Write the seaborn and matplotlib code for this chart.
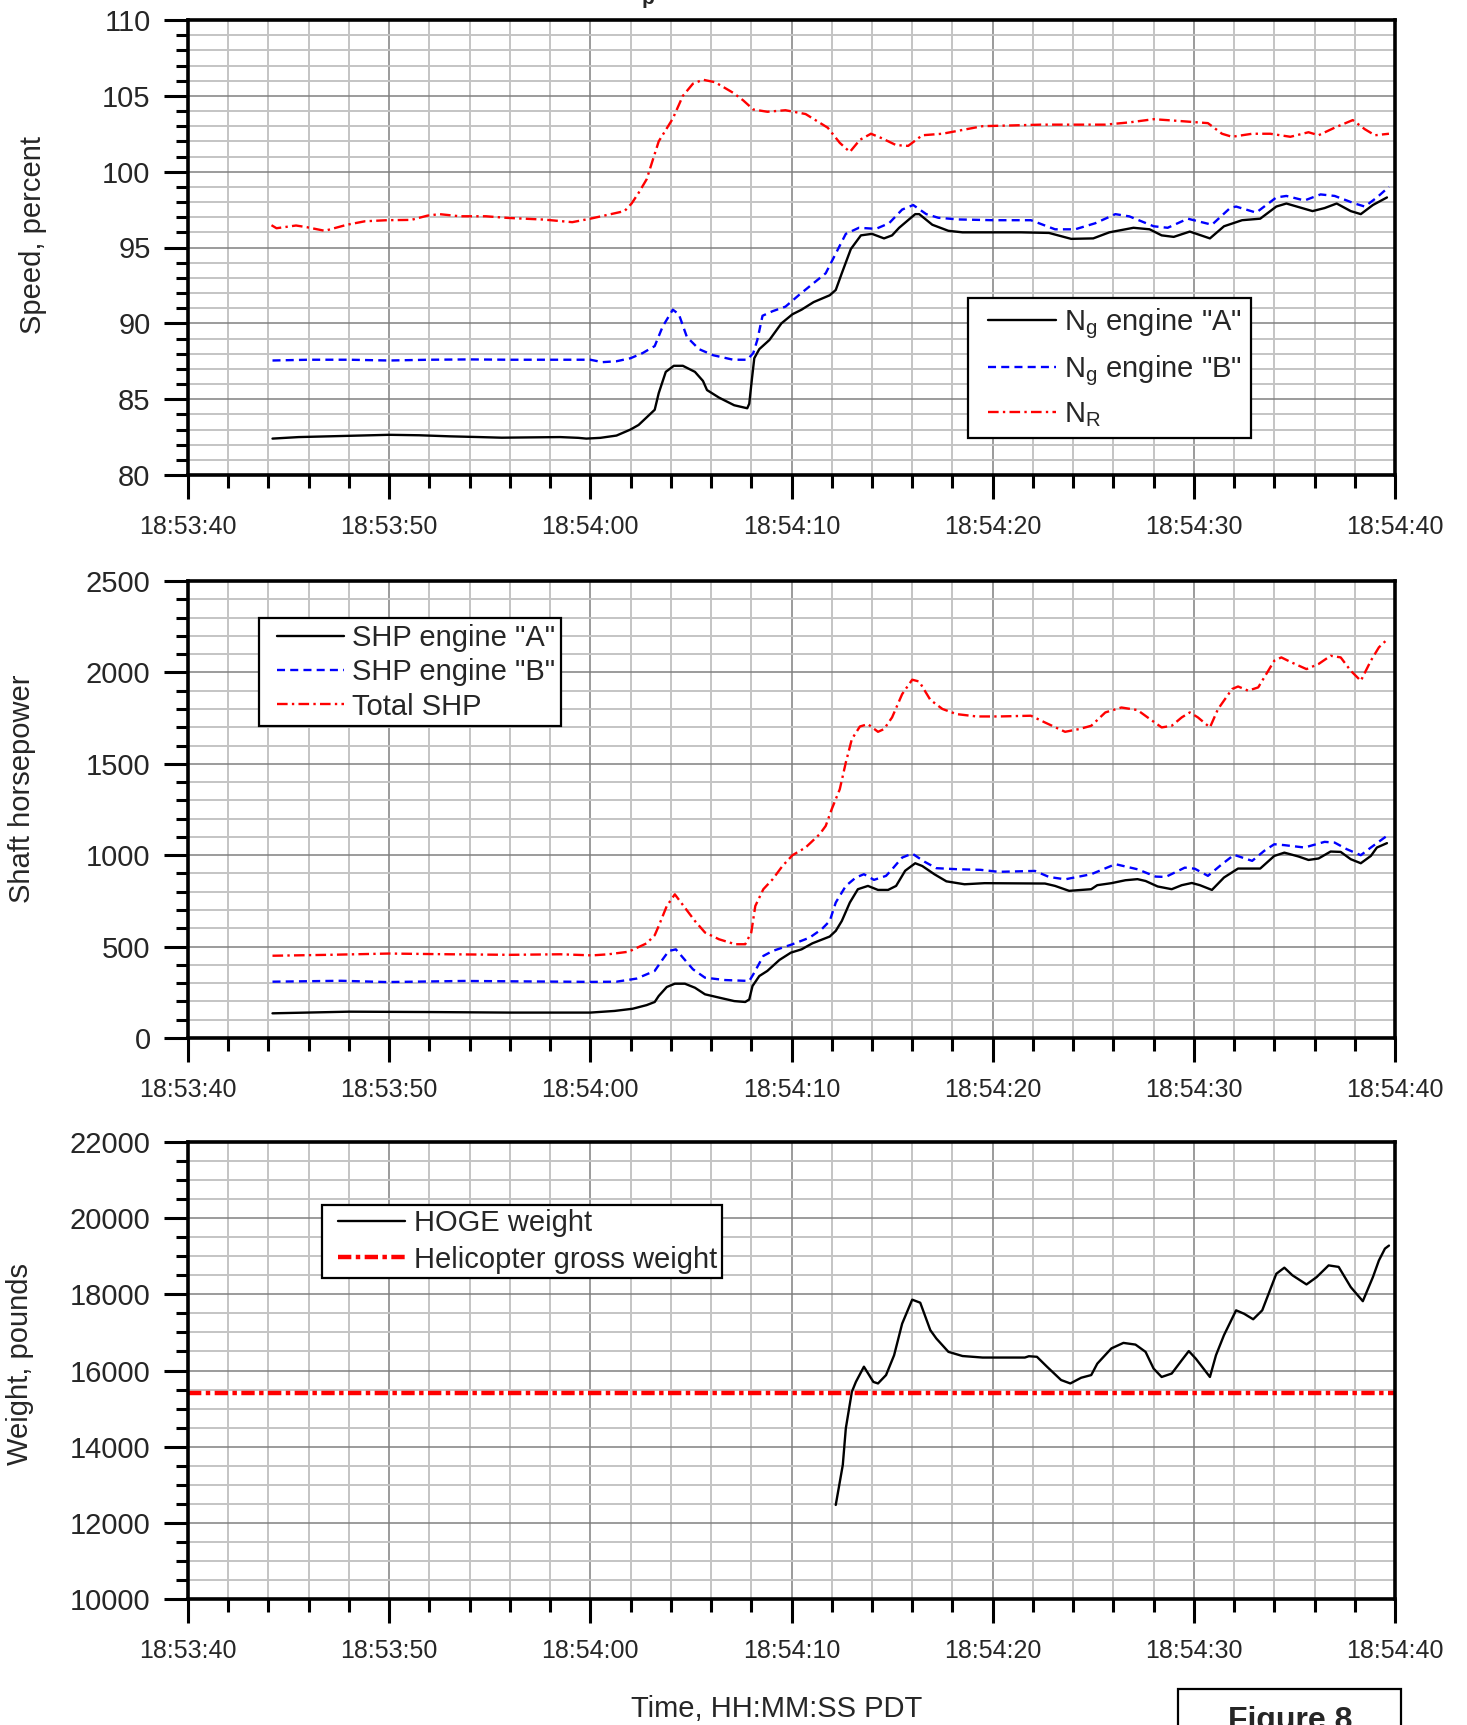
import matplotlib
matplotlib.use('Agg')
import matplotlib.pyplot as plt
import seaborn as sns
import numpy as np
from matplotlib.ticker import MultipleLocator, FixedLocator, FixedFormatter
from matplotlib.patches import Rectangle
from matplotlib.lines import Line2D
from matplotlib.legend_handler import HandlerLine2D

# time axis: seconds after 18:53:40
tick_secs = [0, 10, 20, 30, 40, 50, 60]
tick_labels = ['18:53:40', '18:53:50', '18:54:00', '18:54:10',
               '18:54:20', '18:54:30', '18:54:40']

# ---- panel 1: speed, percent ----
ng_a_t = [4.2, 5.5, 7, 8.5, 10, 11.5, 13, 14.5, 15.6, 17, 18.5, 19.4, 19.8, 20.5, 21.3,
          22.0, 22.4, 23.2, 23.4, 23.75, 24.15, 24.6, 25.2, 25.6, 25.8, 26.4, 27.15, 27.8,
          27.9, 28.03, 28.15, 28.4, 28.9, 29.5, 30.05, 30.5, 31.1, 31.9, 32.2, 32.5, 32.95,
          33.45, 34.0, 34.6, 35.0, 35.35, 36.15, 36.35, 37.0, 37.8, 38.5, 40, 41.4, 42.8,
          43.9, 45.0, 45.8, 47.0, 47.8, 48.4, 49.0, 49.8, 50.8, 51.5, 52.4, 53.3, 54.1,
          54.6, 55.9, 56.5, 57.1, 57.8, 58.3, 58.9, 59.6]
ng_a = [82.4, 82.5, 82.55, 82.6, 82.65, 82.62, 82.55, 82.5, 82.46, 82.48, 82.5, 82.45,
        82.4, 82.45, 82.6, 83.0, 83.3, 84.3, 85.4, 86.8, 87.2, 87.2, 86.8, 86.2, 85.6, 85.1,
        84.6, 84.4, 84.7, 86.3, 87.7, 88.3, 88.9, 90.0, 90.6, 90.9, 91.4, 91.85, 92.2, 93.3,
        94.9, 95.8, 95.9, 95.6, 95.8, 96.3, 97.2, 97.2, 96.5, 96.1, 96.0, 96.0, 96.0, 95.96,
        95.57, 95.6, 96.0, 96.3, 96.2, 95.8, 95.7, 96.05, 95.6, 96.4, 96.8, 96.9, 97.7, 97.9,
        97.4, 97.6, 97.9, 97.4, 97.2, 97.8, 98.3]

ng_b_t = [4.2, 6, 8, 10, 12, 14, 16, 18, 20, 20.6, 21.3, 22.0, 22.6, 23.2, 23.6, 24.1,
          24.4, 24.8, 25.4, 26.1, 27.1, 27.8, 28.1, 28.3, 28.56, 29.06, 29.7, 30.4, 31.05,
          31.7, 32.2, 32.7, 33.35, 34.2, 34.85, 35.5, 36.05, 36.7, 37.3, 38.3, 40, 41.9,
          43.1, 44.1, 45.1, 46.1, 46.8, 48.0, 48.7, 49.7, 50.9, 51.8, 52.1, 53.1, 54.1,
          54.6, 55.5, 56.3, 57.0, 58.0, 58.5, 59.1, 59.7]
ng_b = [87.55, 87.6, 87.6, 87.55, 87.6, 87.62, 87.6, 87.6, 87.6, 87.44, 87.5, 87.7, 88.04,
        88.5, 89.8, 90.9, 90.6, 89.1, 88.3, 87.9, 87.6, 87.6, 88.04, 88.9, 90.5, 90.8, 91.1,
        91.9, 92.6, 93.3, 94.6, 95.9, 96.3, 96.23, 96.6, 97.5, 97.8, 97.2, 96.96, 96.85, 96.8,
        96.8, 96.2, 96.2, 96.6, 97.2, 97.05, 96.4, 96.3, 96.9, 96.5, 97.6, 97.7, 97.3, 98.3,
        98.4, 98.1, 98.5, 98.4, 97.9, 97.7, 98.3, 99.0]

nr_t = [4.15, 4.4, 5.37, 5.9, 6.8, 7.9, 8.8, 9.9, 11.1, 11.9, 12.5, 13.5, 14.8, 15.9, 17.7,
        19.1, 20.0, 21.7, 22.05, 22.4, 22.8, 23.4, 24.1, 24.6, 25.1, 25.6, 26.2, 27.1, 27.6,
        28.1, 28.8, 29.7, 30.7, 31.8, 32.4, 32.9, 33.4, 33.95, 34.5, 35.2, 35.8, 36.5, 37.5,
        38.3, 39.5, 41, 42.4, 44.1, 45.6, 46.8, 48.0, 49.2, 50.7, 51.4, 51.9, 52.9, 53.8,
        54.8, 55.7, 56.2, 57.0, 57.9, 58.5, 59.0, 59.7]
nr = [96.47, 96.27, 96.45, 96.34, 96.1, 96.5, 96.73, 96.8, 96.82, 97.1, 97.2, 97.06, 97.06,
      96.95, 96.84, 96.67, 96.9, 97.4, 97.9, 98.6, 99.5, 102.0, 103.5, 105.0, 105.8, 106.06,
      105.9, 105.2, 104.7, 104.1, 103.95, 104.05, 103.8, 102.9, 101.9, 101.3, 102.1, 102.5,
      102.2, 101.75, 101.7, 102.4, 102.5, 102.7, 103.0, 103.05, 103.1, 103.1, 103.1, 103.25,
      103.46, 103.35, 103.2, 102.5, 102.3, 102.5, 102.5, 102.3, 102.6, 102.4, 102.9, 103.4,
      102.8, 102.4, 102.5]

# ---- panel 2: shaft horsepower ----
shp_a_t = [4.2, 8, 12, 16, 20.0, 21.2, 22.1, 22.8, 23.2, 23.4, 23.8, 24.2, 24.7, 25.2, 25.7,
           26.4, 27.15, 27.7, 27.9, 28.06, 28.4, 28.8, 29.4, 29.97, 30.5, 31.04, 31.9, 32.2,
           32.5, 32.9, 33.3, 33.8, 34.3, 34.8, 35.2, 35.65, 36.15, 36.5, 37.1, 37.7, 38.6,
           39.6, 42.6, 43.1, 43.8, 44.9, 45.2, 45.9, 46.6, 47.2, 47.6, 48.2, 48.9, 49.4, 49.9,
           50.3, 50.9, 51.5, 52.2, 53.3, 54.0, 54.5, 55.2, 55.7, 56.2, 56.8, 57.3, 57.8, 58.3,
           58.8, 59.1, 59.6]
shp_a = [135, 144, 142, 139, 139, 148, 160, 180, 197, 230, 279, 297, 297, 275, 239, 221, 202,
         197, 211, 284, 339, 367, 427, 467, 485, 518, 555, 586, 640, 741, 814, 832, 810, 810,
         832, 915, 956, 941, 896, 857, 841, 847, 845, 832, 805, 814, 836, 847, 863, 869, 859,
         829, 814, 836, 848, 836, 810, 878, 927, 927, 996, 1014, 993, 974, 982, 1020, 1018,
         978, 956, 996, 1042, 1066]

shp_b_t = [4.2, 7.6, 9.9, 13.7, 20.1, 21.3, 22.3, 23.2, 23.6, 23.9, 24.25, 24.6, 25.1, 25.7,
           26.7, 27.9, 28.1, 28.6, 29.06, 30.05, 30.9, 31.5, 31.9, 32.2, 32.7, 33.2, 33.6,
           34.1, 34.7, 35.0, 35.5, 36.0, 36.6, 37.2, 38.3, 39.4, 40.3, 42.1, 42.8, 43.6, 44.9,
           46.1, 47.2, 48.1, 48.6, 49.55, 50.05, 50.7, 51.4, 52.0, 52.9, 53.5, 54.0, 54.5,
           55.5, 56.5, 57.0, 57.6, 58.3, 58.8, 59.6]
shp_b = [308, 313, 306, 312, 307, 308, 325, 367, 431, 476, 485, 440, 376, 330, 317, 312, 348,
         449, 476, 513, 549, 595, 640, 741, 832, 878, 896, 865, 887, 923, 987, 1009, 965, 929,
         923, 920, 909, 914, 881, 868, 896, 951, 923, 883, 881, 932, 926, 887, 951, 1002, 969,
         1024, 1060, 1055, 1042, 1073, 1069, 1033, 1000, 1042, 1106]

shp_tot_t = [4.2, 7, 10, 13, 16, 18.5, 20.1, 20.9, 21.9, 22.8, 23.2, 23.4, 23.8, 24.2, 24.7,
             25.2, 25.7, 26.4, 27.2, 27.7, 28.0, 28.2, 28.6, 29.06, 29.55, 30.05, 30.7, 31.4,
             31.7, 32.0, 32.4, 32.7, 33.0, 33.4, 33.8, 34.3, 34.6, 35.0, 35.5, 36.0, 36.35,
             36.9, 37.5, 38.2, 39.2, 40.3, 41.9, 42.6, 43.6, 44.3, 44.9, 45.6, 46.4, 47.2,
             47.7, 48.4, 48.9, 49.4, 49.8, 50.2, 50.8, 51.2, 51.9, 52.2, 52.7, 53.2, 53.7,
             54.0, 54.35, 54.85, 55.6, 56.2, 56.8, 57.3, 57.8, 58.3, 58.8, 59.2, 59.6]
shp_tot = [450, 455, 462, 458, 455, 458, 452, 458, 472, 518, 562, 613, 722, 786, 713, 640, 577,
           540, 513, 513, 577, 722, 814, 868, 941, 1000, 1042, 1115, 1160, 1252, 1361, 1507,
           1635, 1704, 1717, 1675, 1690, 1754, 1881, 1960, 1950, 1850, 1800, 1772, 1759, 1759,
           1763, 1726, 1675, 1690, 1708, 1781, 1808, 1794, 1754, 1699, 1708, 1754, 1781, 1754,
           1699, 1799, 1909, 1923, 1900, 1918, 2009, 2064, 2082, 2055, 2018, 2046, 2091, 2082,
           2009, 1954, 2064, 2137, 2179]

# ---- panel 3: weight ----
hoge_t = [32.2, 32.55, 32.7, 33.0, 33.2, 33.6, 34.07, 34.3, 34.7, 35.1, 35.5, 36.0, 36.4,
          36.9, 37.2, 37.8, 38.5, 39.5, 40.4, 41.6, 41.8, 42.2, 42.7, 43.4, 43.86, 44.4, 44.9,
          45.2, 45.9, 46.5, 47.1, 47.6, 48.0, 48.4, 48.9, 49.4, 49.75, 50.1, 50.8, 51.1, 51.5,
          52.1, 52.5, 52.95, 53.4, 54.1, 54.5, 54.9, 55.6, 56.1, 56.7, 57.2, 57.8, 58.4, 58.9,
          59.2, 59.5, 59.7]
hoge = [12470, 13520, 14480, 15440, 15700, 16100, 15700, 15660, 15880, 16400, 17230, 17860,
        17780, 17060, 16840, 16490, 16380, 16340, 16340, 16340, 16375, 16360, 16100, 15750,
        15660, 15810, 15880, 16180, 16580, 16725, 16680, 16490, 16050, 15830, 15920, 16270,
        16510, 16310, 15830, 16400, 16930, 17580, 17490, 17345, 17580, 18540, 18700, 18500,
        18260, 18450, 18760, 18720, 18190, 17820, 18450, 18890, 19200, 19280]
gross_weight = 15420

blue = '#0000ff'
red = '#ff0000'
dash_b = (0, (3.4, 2.2))
dashdot_r = (0, (4.5, 1.8, 1.0, 1.8))

sns.set_style('white')
plt.rcParams['font.family'] = ['Liberation Sans', 'DejaVu Sans']
plt.rcParams['mathtext.fontset'] = 'custom'
plt.rcParams['mathtext.rm'] = 'Liberation Sans'
plt.rcParams['mathtext.it'] = 'Liberation Sans:italic'

W, H = 1467, 1725
fig = plt.figure(figsize=(W / 100, H / 100), dpi=100)


def make_ax(top_px, bottom_px):
    return fig.add_axes([188 / W, 1 - bottom_px / H, (1395 - 188) / W, (bottom_px - top_px) / H])


ax1 = make_ax(20, 475)
ax2 = make_ax(581, 1038)
ax3 = make_ax(1142, 1599)

sns.lineplot(x=ng_a_t, y=ng_a, ax=ax1, color='black', lw=1.7, label=r'N$_\mathrm{g}$ engine "A"')
sns.lineplot(x=ng_b_t, y=ng_b, ax=ax1, color=blue, lw=1.7, linestyle=dash_b,
             label=r'N$_\mathrm{g}$ engine "B"')
sns.lineplot(x=nr_t, y=nr, ax=ax1, color=red, lw=1.7, linestyle=dashdot_r, label=r'N$_\mathrm{R}$')

sns.lineplot(x=shp_a_t, y=shp_a, ax=ax2, color='black', lw=1.7, label='SHP engine "A"')
sns.lineplot(x=shp_b_t, y=shp_b, ax=ax2, color=blue, lw=1.7, linestyle=dash_b, label='SHP engine "B"')
sns.lineplot(x=shp_tot_t, y=shp_tot, ax=ax2, color=red, lw=1.7, linestyle=dashdot_r, label='Total SHP')

sns.lineplot(x=hoge_t, y=hoge, ax=ax3, color='black', lw=1.7, label='HOGE weight')
ax3.axhline(gross_weight, color=red, lw=3.2, linestyle=(0, (3.0, 1.0, 1.0, 1.0)),
            label='Helicopter gross weight')

settings = [
    (ax1, (80, 110), 5, 1),
    (ax2, (0, 2500), 500, 100),
    (ax3, (10000, 22000), 2000, 500),
]
for ax, ylim, ymaj, ymin in settings:
    ax.set_xlim(0, 60)
    ax.set_ylim(*ylim)
    ax.xaxis.set_major_locator(FixedLocator(tick_secs))
    ax.xaxis.set_major_formatter(FixedFormatter(tick_labels))
    ax.xaxis.set_minor_locator(MultipleLocator(2))
    ax.yaxis.set_major_locator(MultipleLocator(ymaj))
    ax.yaxis.set_minor_locator(MultipleLocator(ymin))
    ax.set_axisbelow(True)
    ax.grid(which='minor', color='#c4c4c4', lw=1.4)
    ax.grid(which='major', color='#808080', lw=1.1)
    for sp in ax.spines.values():
        sp.set_visible(True)
        sp.set_color('black')
        sp.set_linewidth(2.6)
    ax.tick_params(which='both', direction='out', color='black', width=2.2,
                   bottom=True, left=True, top=False, right=False)
    ax.tick_params(which='major', length=17)
    ax.tick_params(which='minor', length=9)
    ax.tick_params(axis='x', labelsize=18, pad=12)
    ax.tick_params(axis='y', labelsize=21, pad=10)
    ax.set_xlabel('')
    ax.set_ylabel('')

# legend handles start a little in from the frame, as in the original
handler = {Line2D: HandlerLine2D(xpad=0.4)}
legend_specs = [
    (ax1, (968 - 188) / 1207, (475 - 298) / 455, 0.42, 0.3),
    (ax2, (259 - 188) / 1207, (1038 - 618) / 457, 0.22, 0.2),
    (ax3, (322 - 188) / 1207, (1599 - 1205) / 457, 0.28, 0.15),
]
for ax, lx, ly, lsp, bpad in legend_specs:
    leg = ax.legend(loc='upper left', bbox_to_anchor=(lx, ly), borderaxespad=0, fontsize=21,
                    frameon=True, fancybox=False, framealpha=1, edgecolor='black',
                    handlelength=2.7, handletextpad=0.3, borderpad=bpad, labelspacing=lsp,
                    handler_map=handler)
    leg.get_frame().set_linewidth(1.6)

fig.text(33 / W, 1 - 235 / H, 'Speed, percent', rotation=90, ha='center', va='center', fontsize=21)
fig.text(22 / W, 1 - 789 / H, 'Shaft horsepower', rotation=90, ha='center', va='center', fontsize=21)
fig.text(20 / W, 1 - 1364 / H, 'Weight, pounds', rotation=90, ha='center', va='center', fontsize=21)
fig.text(777 / W, 1 - 1709 / H, 'Time, HH:MM:SS PDT', ha='center', va='center', fontsize=21)

# title cut off at the top edge, only its descender shows
fig.text(648 / W, 1 - 4 / H, 'p', ha='center', va='baseline', fontsize=15, fontweight='bold')

# "Figure 8" box cut off at the bottom
fig.patches.append(Rectangle((1178 / W, -0.02), 223 / W, 0.02 + (H - 1689) / H,
                             transform=fig.transFigure, fill=False, edgecolor='black', lw=1.6))
fig.text(1290 / W, 1 - 1729 / H, 'Figure 8', ha='center', va='baseline', fontsize=23,
         fontweight='bold')

fig.savefig('out.png', dpi=100)
